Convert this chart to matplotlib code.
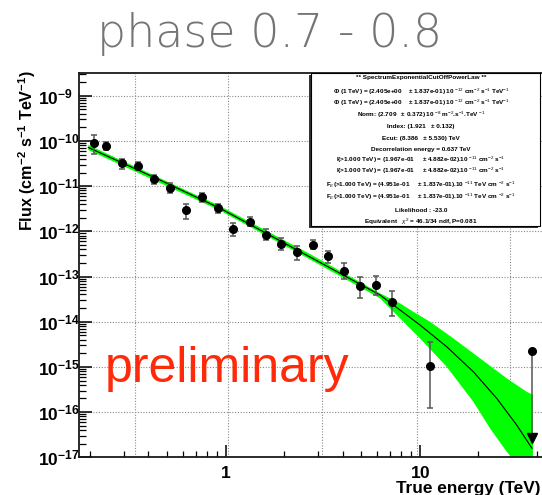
import matplotlib
matplotlib.use('Agg')
import matplotlib.pyplot as plt
import matplotlib.ticker as ticker
from matplotlib.patches import Rectangle
import numpy as np

plt.rcParams['font.family'] = ['Liberation Sans', 'DejaVu Sans']
plt.rcParams['mathtext.fontset'] = 'custom'
plt.rcParams['mathtext.rm'] = 'Liberation Sans'
plt.rcParams['mathtext.it'] = 'Liberation Sans:italic'
plt.rcParams['mathtext.bf'] = 'Liberation Sans:bold'

# spectral points, energy in TeV, flux in cm^-2 s^-1 TeV^-1
energy = [0.211, 0.242, 0.294, 0.355, 0.428, 0.517, 0.625, 0.755, 0.909, 1.094,
          1.329, 1.607, 1.932, 2.336, 2.825, 3.374, 4.077, 4.93, 5.916, 7.153, 11.26]
flux = [8.85e-11, 7.83e-11, 3.19e-11, 2.83e-11, 1.41e-11, 9.22e-12, 2.92e-12, 5.65e-12,
        3.23e-12, 1.12e-12, 1.63e-12, 8.28e-13, 5.24e-13, 3.48e-13, 5.06e-13, 2.84e-13,
        1.34e-13, 6.25e-14, 6.38e-14, 2.77e-14, 1.05e-15]
flux_hi = [1.35e-10, 9.60e-11, 3.92e-11, 3.47e-11, 1.76e-11, 1.15e-11, 4.02e-12, 6.93e-12,
           4.02e-12, 1.55e-12, 2.10e-12, 1.11e-12, 7.0e-13, 4.80e-13, 6.42e-13, 3.72e-13,
           1.96e-13, 9.9e-14, 1.03e-13, 4.85e-14, 3.50e-15]
flux_lo = [5.13e-11, 6.29e-11, 2.39e-11, 2.27e-11, 1.11e-11, 7.14e-12, 1.87e-12, 4.52e-12,
           2.50e-12, 7.99e-13, 1.31e-12, 6.42e-13, 3.86e-13, 2.32e-13, 4.0e-13, 2.02e-13,
           8.67e-14, 3.40e-14, 3.90e-14, 1.36e-14, 1.21e-16]

# upper limit in the last bin
ul_energy = 37.7
ul_flux = 2.25e-15
ul_arrow = 2.7e-17

# fitted spectrum (exponential cut-off power law) and its error band
fit_e = [0.1963, 0.459, 0.935, 2.716, 6.225, 7.89, 10.0, 13.72, 18.81, 24.82, 31.46, 37.71]
fit_f = [7.15e-11, 1.365e-11, 3.23e-12, 2.70e-13, 3.90e-14, 1.82e-14, 8.45e-15, 2.80e-15,
         7.83e-16, 2.02e-16, 5.18e-17, 1.58e-17]
band_up_e = [0.1963, 0.935, 2.716, 6.225, 7.89, 9.24, 11.26, 14.84, 20.37, 27.94, 35.42, 38.16]
band_up_f = [8.11e-11, 3.63e-12, 3.15e-13, 4.25e-14, 2.55e-14, 1.66e-14, 1.0e-14, 4.29e-15,
             1.55e-15, 5.60e-16, 2.82e-16, 2.39e-16]
band_lo_e = [0.1963, 0.935, 2.716, 6.225, 7.89, 10.0, 13.72, 18.81, 22.93, 27.94, 29.65, 38.16]
band_lo_f = [6.29e-11, 2.88e-12, 2.38e-13, 3.30e-14, 1.19e-14, 4.29e-15, 1.01e-15, 1.70e-16,
             4.38e-17, 1.33e-17, 9.8e-18, 1e-18]

grid_e = [0.34, 1.03, 3.14, 9.6, 29.0]

stats_lines = [
    '** SpectrumExponentialCutOffPowerLaw **',
    'Φ (1 TeV) = (2.405e+00    ± 1.837e-01) 10 $^{-12}$ cm$^{-2}$ s$^{-1}$ TeV$^{-1}$',
    'Φ (1 TeV) = (2.405e+00    ± 1.837e-01) 10 $^{-12}$ cm$^{-2}$ s$^{-1}$ TeV$^{-1}$',
    'Norm: (2.709   ± 0.372) 10 $^{-8}$ m$^{-2}$.s$^{-1}$.TeV $^{-1}$',
    'Index: (1.921   ± 0.132)',
    'Ecut: (8.386   ± 5.530) TeV',
    'Decorrelation energy = 0.637 TeV',
    'I(>1.000 TeV) = (1.967e-01     ± 4.882e-02).10 $^{-11}$ cm$^{-2}$ s$^{-1}$',
    'I(>1.000 TeV) = (1.967e-01     ± 4.882e-02).10 $^{-11}$ cm$^{-2}$ s$^{-1}$',
    'F$_{E}$(>1.000 TeV) = (4.951e-01     ± 1.837e-01).10 $^{-11}$ TeV cm $^{-2}$ s$^{-1}$',
    'F$_{E}$(>1.000 TeV) = (4.951e-01     ± 1.837e-01).10 $^{-11}$ TeV cm $^{-2}$ s$^{-1}$',
    'Likelihood : -23.0',
    'Equivalent   $\\chi^{2}$ = 46.1/34 ndf, P=0.081',
]

W, H = 542, 495
def fx(px):
    return px / W
def fy(py):
    return 1 - py / H

fig = plt.figure(figsize=(W / 100, H / 100), dpi=100)
ax = fig.add_axes([fx(79), fy(457.3), fx(548) - fx(79), fy(73) - fy(457.3)])
ax.set_xscale('log')
ax.set_yscale('log')
ax.set_xlim(0.1758, 45.6)
ax.set_ylim(1e-17, 3.18e-9)

#grid
for e in grid_e:
    ax.axvline(e, color='#8a8a8a', lw=0.8, ls=(0, (1, 1.5)), zorder=1)
for k in range(-16, -8):
    ax.axhline(10.0 ** k, color='#8a8a8a', lw=0.8, ls=(0, (1, 1.5)), zorder=1)

#fit band and model
ax.fill(np.r_[band_up_e, band_lo_e[::-1]], np.r_[band_up_f, band_lo_f[::-1]],
        color='#00ff00', lw=0, zorder=2)
ax.plot(fit_e, fit_f, color='black', lw=0.8, zorder=3)

#data points
f = np.array(flux)
yerr = [f - np.array(flux_lo), np.array(flux_hi) - f]
ax.errorbar(energy, flux, yerr=yerr, fmt='o', color='black', ms=5.5,
            ecolor='#555555', elinewidth=1.1, capsize=2.3, capthick=1.1, zorder=4)

#upper limit
ax.plot([ul_energy, ul_energy], [ul_flux, ul_arrow], color='#555555', lw=1.1, zorder=4)
ax.plot(ul_energy, ul_flux, 'o', color='black', ms=5.5, zorder=5)
ax.plot(ul_energy, ul_arrow, 'v', color='black', ms=7, zorder=5)

#axis lines
for side in ['top', 'bottom', 'left', 'right']:
    ax.spines[side].set_linewidth(1.3)
    ax.spines[side].set_color('#1a1a1a')

#ticks
ax.yaxis.set_major_locator(ticker.FixedLocator([10.0 ** k for k in range(-17, -8)]))
ax.yaxis.set_minor_locator(ticker.LogLocator(base=10, subs=np.arange(2, 10), numticks=300))
ax.xaxis.set_major_locator(ticker.FixedLocator([1, 10]))
ax.xaxis.set_minor_locator(ticker.LogLocator(base=10, subs=np.arange(2, 10), numticks=100))
ax.yaxis.set_major_formatter(ticker.FuncFormatter(
    lambda v, p: r'$\mathbf{10^{%d}}$' % int(round(np.log10(v)))))
ax.xaxis.set_major_formatter(ticker.FuncFormatter(
    lambda v, p: r'$\mathbf{%g}$' % v))
ax.xaxis.set_minor_formatter(ticker.NullFormatter())
ax.yaxis.set_minor_formatter(ticker.NullFormatter())

ax.tick_params(axis='y', which='major', direction='in', length=9.5, width=1.1,
               labelsize=12.5, pad=29.5, right=False)
ax.tick_params(axis='y', which='minor', direction='in', length=5, width=0.9, right=False)
ax.tick_params(axis='x', which='major', direction='in', length=8.5, width=1.1,
               labelsize=12.5, pad=5.5, top=False)
ax.tick_params(axis='x', which='minor', direction='in', length=4.5, width=0.9, top=False)
for lab in ax.get_yticklabels():
    lab.set_horizontalalignment('left')

#labels
fig.text(fx(27), fy(151), r'$\mathbf{Flux\ (cm^{-2}\ s^{-1}\ TeV^{-1})}$',
         rotation=90, ha='center', va='center', fontsize=11.6)
fig.text(fx(540), fy(493.5), 'True energy (TeV)', ha='right', va='baseline',
         fontsize=12.4, fontweight='bold')
fig.text(fx(270), fy(46.7), 'phase 0.7 - 0.8', ha='center', va='baseline',
         fontsize=33, color='#747474', family='DejaVu Sans', fontweight=200)
fig.text(fx(105), fy(381.7), 'preliminary', ha='left', va='baseline',
         fontsize=36, color='#ff2a0a')

#fit results box
fig.patches.append(Rectangle((fx(309), fy(227.7)), fx(540) - fx(311), fy(73) - fy(225.7),
                             transform=fig.transFigure, facecolor='#333333',
                             edgecolor='none', zorder=5))
fig.patches.append(Rectangle((fx(311), fy(225.7)), fx(540) - fx(311), fy(73) - fy(225.7),
                             transform=fig.transFigure, facecolor='white',
                             edgecolor='black', lw=0.8, zorder=6))
line_y = [77.3, 91.8, 103.2, 115, 126.7, 138.7, 149.3, 160.2, 170.5, 184.5, 196.5, 210.7, 221.7]
for s, py in zip(stats_lines, line_y):
    fig.text(fx(421), fy(py), s, ha='center', va='center', fontsize=4.6,
             fontweight='bold', zorder=7)

plt.savefig('out.png', dpi=100)
